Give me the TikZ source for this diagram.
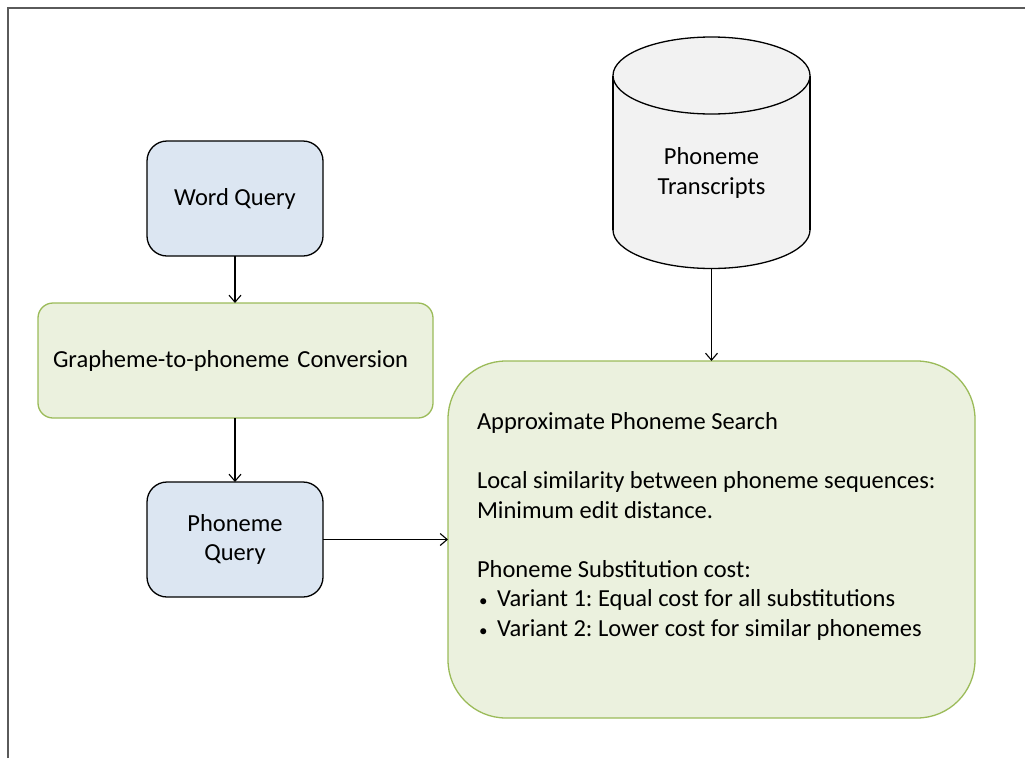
\documentclass[tikz,border=0pt]{standalone}
\usepackage{fontspec}
\setmainfont{Carlito}
\usetikzlibrary{arrows.meta}
\definecolor{blueFill}{HTML}{DCE6F2}
\definecolor{greenFill}{HTML}{EBF1DE}
\definecolor{greenLine}{HTML}{9BBB59}
\definecolor{cylFill}{HTML}{F2F2F2}
\definecolor{frameLine}{HTML}{5A5A5A}
\newcommand{\smallbullet}{\makebox[20pt][l]{\hspace{2pt}{\fontsize{17}{17}\selectfont\textbullet}}}
\tikzset{
  every node/.style={font=\fontsize{24.5}{29.5}\selectfont\frenchspacing, outer sep=0pt},
  querybox/.style={draw=black, line width=1.3pt, fill=blueFill, rounded corners=20pt,
    minimum width=176pt, minimum height=115pt, align=center, inner sep=0pt},
  greenbox/.style={draw=greenLine, line width=1.3pt, fill=greenFill},
  flow/.style={line width=1.1pt, -{Straight Barb[length=7pt,width=12pt,line width=1.1pt]}},
  boxtext/.style={anchor=base west, inner sep=0pt},
}
\begin{document}
\begin{tikzpicture}[x=1pt,y=-1pt]
\useasboundingbox (0,0) rectangle (1025,758);

% outer frame (runs off the page to the right and bottom)
\draw[frameLine, line width=1.5pt] (8,758) -- (8,8) -- (1025,8);

% left column
\node[querybox] (wq) at (235,198.5) {Word Query};
\node[greenbox, rounded corners=15pt, text width=365pt, inner xsep=15pt, inner ysep=0pt,
      minimum height=115pt, align=left] (g2p) at (235.5,360.5) {Grapheme-to-phoneme Conversion};
\node[querybox] (pq) at (235,539.5) {Phoneme\\Query};

% phoneme transcript store (cylinder)
\fill[cylFill] (613,75.5) rectangle (810,230);
\fill[cylFill] (711.5,230) ellipse[x radius=98.5, y radius=38.5];
\begin{scope}
  \clip (600,230) rectangle (825,280);
  \draw[line width=1.3pt] (711.5,230) ellipse[x radius=98.5, y radius=38.5];
\end{scope}
\draw[line width=1.3pt] (613,75.5) -- (613,230) (810,75.5) -- (810,230);
\draw[line width=1.3pt, fill=cylFill] (711.5,75.5) ellipse[x radius=98.5, y radius=38.5];
\node[align=center, inner sep=0pt] (db) at (711.5,173) {Phoneme\\Transcripts};
\coordinate (dbbot) at (711.5,268.5);

% search box
\node[greenbox, rounded corners=58pt, minimum width=527pt, minimum height=357pt, inner sep=0pt]
  (aps) at (711.5,539.5) {};
\node[boxtext] (t1) at (477,429.5) {Approximate Phoneme Search};
\node[boxtext] (t2) at (477,488.5) {Local similarity between phoneme sequences:};
\node[boxtext] (t3) at (477,518) {Minimum edit distance.};
\node[boxtext] (t4) at (477,577) {Phoneme Substitution cost:};
\node[boxtext] (t5) at (477,606.5) {\smallbullet Variant 1: Equal cost for all substitutions};
\node[boxtext] (t6) at (477,636) {\smallbullet Variant 2: Lower cost for similar phonemes};

% connectors
\draw[flow] (wq.south) -- (wq.south |- g2p.north);
\draw[flow] (pq.north |- g2p.south) -- (pq.north);
\draw[flow] (pq.east) -- (pq.east -| aps.west);
\draw[flow] (dbbot) -- (dbbot |- aps.north);
\end{tikzpicture}
\end{document}
